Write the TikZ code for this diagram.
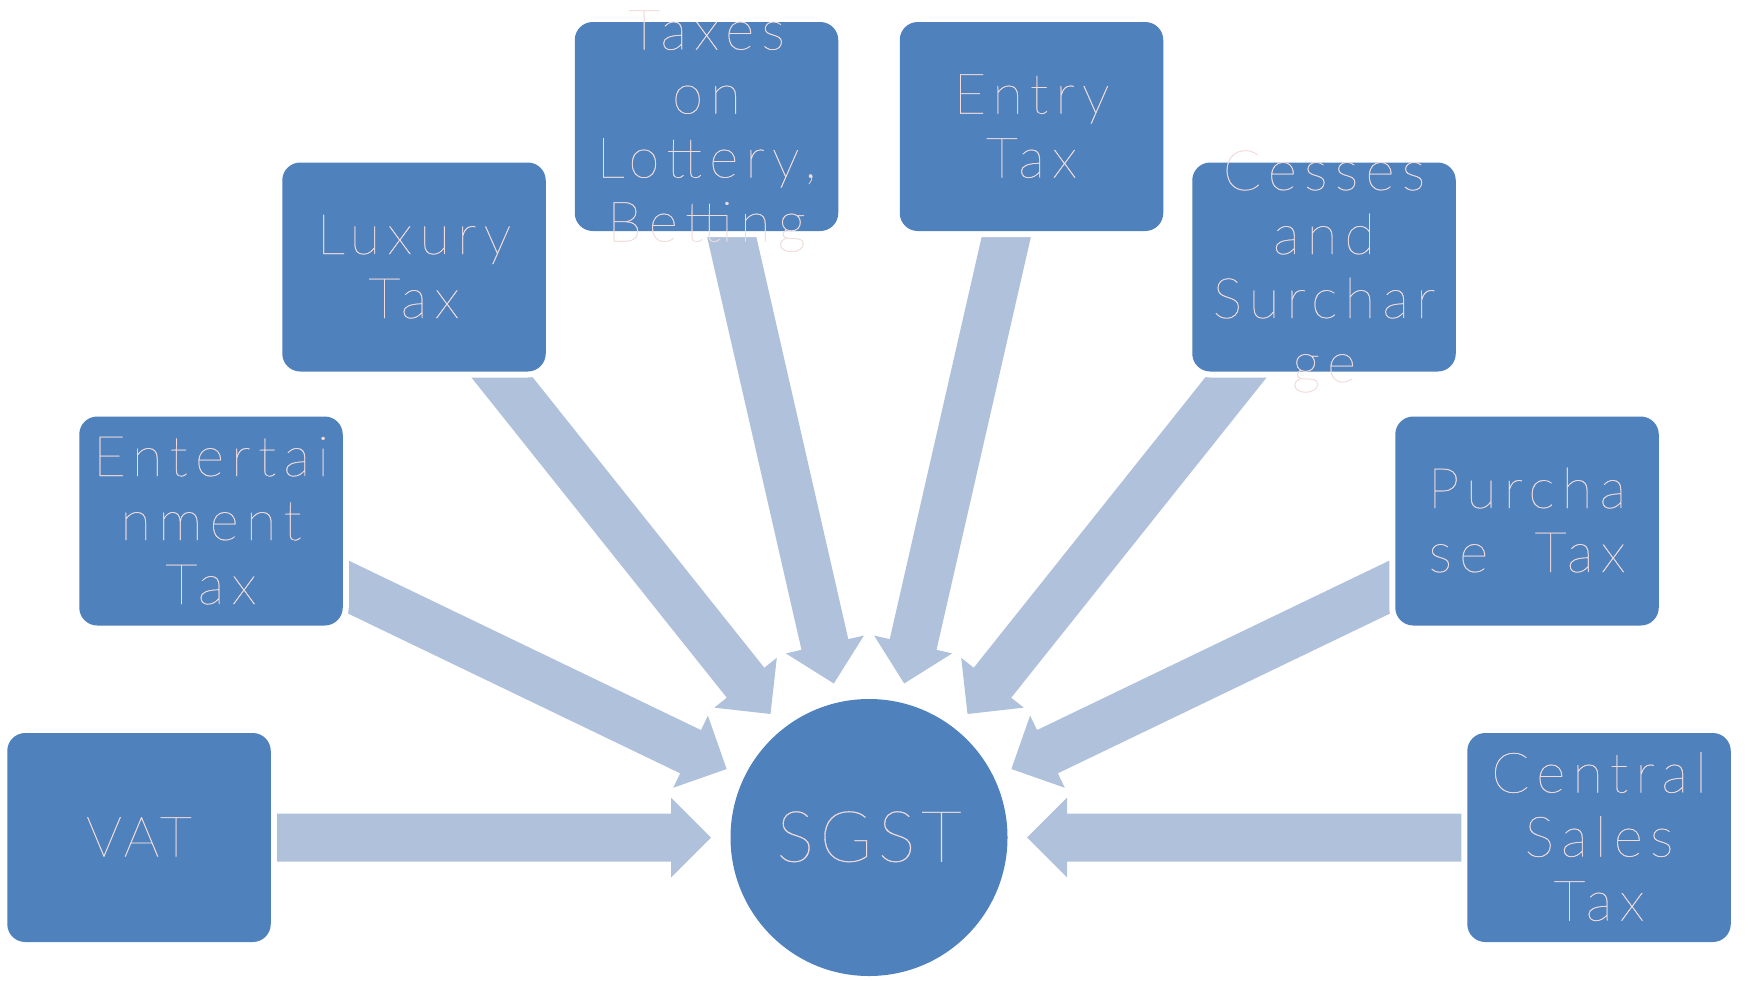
\documentclass[tikz,border=0pt]{standalone}
\usepackage{fontspec}
\newfontfamily\thinfont{Lato Hairline}[LetterSpace=13,FakeBold=0.4]
\newfontfamily\hubfont{Lato Hairline}[LetterSpace=8,FakeBold=0.4]
\usetikzlibrary{calc,backgrounds}
\definecolor{boxblue}{HTML}{4F81BD}
\definecolor{arrowblue}{HTML}{B0C1DC}
\definecolor{txtpink}{HTML}{F2DCDB}
\newcommand\txl[1]{\vrule width0pt height0.9em depth0.22em\smash{#1}}
\tikzset{
  box/.style={rectangle, rounded corners=9pt, fill=boxblue, minimum width=131.75pt,
    minimum height=104.5pt, inner sep=0pt, preaction={draw=white, line width=6pt}},
  boxtext/.style={text=txtpink, font=\thinfont\fontsize{28}{32}\selectfont, align=center, inner sep=0pt},
  hub/.style={circle, fill=boxblue, minimum size=138.5pt, inner sep=0pt},
  blockarrow/.style={fill=arrowblue}
}
\begin{document}
\begin{tikzpicture}[x=0.5pt,y=-0.5pt]
\useasboundingbox (0,0) rectangle (1748,980);
\node[box] (vat) at (139,837.5) {};
\node[box] (ent) at (211,521) {};
\node[box] (lux) at (414,267) {};
\node[box] (lot) at (706.5,126.5) {};
\node[box] (entry) at (1031.5,126.5) {};
\node[box] (ces) at (1324,267) {};
\node[box] (pur) at (1527,521) {};
\node[box] (cst) at (1599,837.5) {};
\node[hub] (sgst) at (869,837.5) {};
\begin{pgfonlayer}{background}
\foreach \b in {vat,ent,lux,lot,entry,ces,pur,cst}{
  \fill[blockarrow]
    ($(sgst.center)!79pt!(\b.center)$)
    -- ($(sgst.center)!99pt!(\b.center)!20pt!90:(\b.center)$)
    -- ($(sgst.center)!99pt!(\b.center)!12pt!90:(\b.center)$)
    -- ($(\b.center)!12pt!-90:(sgst.center)$)
    -- ($(\b.center)!12pt!90:(sgst.center)$)
    -- ($(sgst.center)!99pt!(\b.center)!12pt!-90:(\b.center)$)
    -- ($(sgst.center)!99pt!(\b.center)!20pt!-90:(\b.center)$)
    -- cycle;
}
\end{pgfonlayer}
\node[boxtext, font=\hubfont\fontsize{28}{32}\selectfont] (vatt) at (vat.center) {\txl{VAT}};
\node[boxtext] (entt) at (ent.center) {\txl{Entertai}\\\txl{nment}\\\txl{Tax}};
\node[boxtext] (luxt) at (lux.center) {\txl{Luxury}\\\txl{Tax}};
\node[boxtext] (lott) at (lot.center) {\txl{Taxes}\\\txl{on}\\\txl{Lottery,}\\\txl{Betting}};
\node[boxtext] (entryt) at (entry.center) {\txl{Entry}\\\txl{Tax}};
\node[boxtext] (cest) at (ces.center) {\txl{Cesses}\\\txl{and}\\\txl{Surchar}\\\txl{ge}};
\node[boxtext] (purt) at (pur.center) {\txl{Purcha}\\\txl{se\ \ Tax}};
\node[boxtext] (cstt) at (cst.center) {\txl{Central}\\\txl{Sales}\\\txl{Tax}};
\node[boxtext, font=\hubfont\fontsize{35.5}{40}\selectfont] (sgstt) at (sgst.center) {\txl{SGST}};
\end{tikzpicture}
\end{document}
